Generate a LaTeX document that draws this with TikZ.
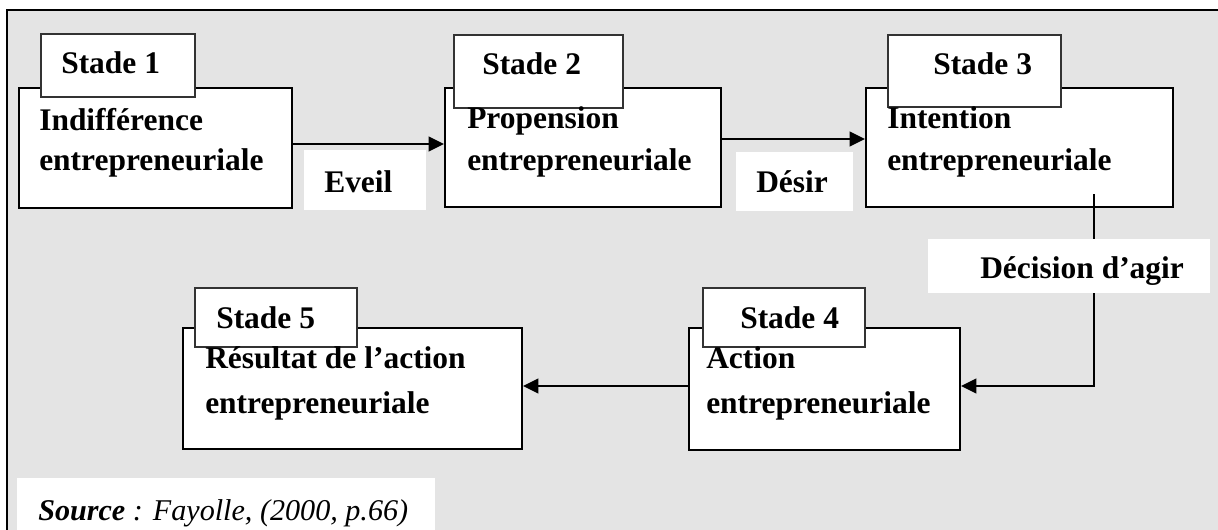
\documentclass[tikz,border=0pt]{standalone}
\usepackage{fontspec}
\setmainfont{Liberation Serif}
\usetikzlibrary{arrows.meta,fit}
\definecolor{panel}{HTML}{E4E4E4}

\begin{document}
\begin{tikzpicture}[x=0.75pt,y=-0.75pt,
  box/.style={draw=black,line width=1.6pt,fill=white,inner sep=0pt},
  tag/.style={draw=black!80,line width=0.9pt,fill=white,inner sep=0pt},
  lbl/.style={fill=white,inner sep=0pt},
  txt/.style={anchor=base west,inner sep=0pt,font=\fontsize{23.6pt}{28pt}\selectfont\bfseries},
  src/.style={anchor=base west,inner sep=0pt,font=\fontsize{22.6pt}{27pt}\selectfont\itshape},
  arr/.style={line width=1.5pt,-{Triangle[length=11.5pt,width=11pt]}}]
\useasboundingbox (0,0) rectangle (1218,529);

% grey panel with its top and left border
\fill[panel] (7,10) rectangle (1240,545);
\draw[line width=1.5pt] (7,545) -- (7,10) -- (1240,10);

% stage boxes
\node[box,fit={(19,88) (292,208)}] (b1) {};
\node[box,fit={(445,88) (721,207)}] (b2) {};
\node[box,fit={(866,88) (1173,207)}] (b3) {};
\node[box,fit={(689,328) (960,450)}] (b4) {};
\node[box,fit={(183,328) (522,449)}] (b5) {};

% connectors
\coordinate (d0) at (1094,194);
\draw[arr] (b1.east |- 0,144) -- (b2.west |- 0,144);
\draw[arr] (b2.east |- 0,139) -- (b3.west |- 0,139);
\draw[arr] (d0) |- (b4.east |- 0,386);
\draw[arr] (b4.west |- 0,386) -- (b5.east |- 0,386);

% stage tags
\node[tag,fit={(41,34) (195,97)}] (s1) {};
\node[tag,fit={(454,35) (623,108)}] (s2) {};
\node[tag,fit={(888,35) (1061,107)}] (s3) {};
\node[tag,fit={(703,288) (865,347)}] (s4) {};
\node[tag,fit={(195,288) (357,347)}] (s5) {};

% transition labels
\node[lbl,fit={(304,150) (426,210)}] (l1) {};
\node[lbl,fit={(736,152) (853,211)}] (l2) {};
\node[lbl,fit={(928,239) (1210,293)}] (l3) {};
\node[lbl,fit={(17,478) (435,545)}] (l4) {};

% texts
\node[txt] (ts1) at (61,73) {Stade 1};
\node[txt] (ts2) at (482,74) {Stade 2};
\node[txt] (ts3) at (933,74) {Stade 3};
\node[txt] (ts4) at (740,328) {Stade 4};
\node[txt] (ts5) at (216,328) {Stade 5};

\node[txt] (t1a) at (39,130) {Indifférence};
\node[txt] (t1b) at (39,170) {entrepreneuriale};
\node[txt] (t2a) at (467,128) {Propension};
\node[txt] (t2b) at (467,170) {entrepreneuriale};
\node[txt] (t3a) at (887,128) {Intention};
\node[txt] (t3b) at (887,170) {entrepreneuriale};
\node[txt] (t4a) at (706,368) {Action};
\node[txt] (t4b) at (706,413) {entrepreneuriale};
\node[txt] (t5a) at (205,368) {Résultat de l’action};
\node[txt] (t5b) at (205,413) {entrepreneuriale};

\node[txt] (te1) at (324,192) {Eveil};
\node[txt] (te2) at (756,192) {Désir};
\node[txt] (te3) at (980,278) {Décision d’agir};

\node[src] (tsrc) at (38,520) {\textbf{Source} : Fayolle, (2000, p.66)};
\end{tikzpicture}
\end{document}
